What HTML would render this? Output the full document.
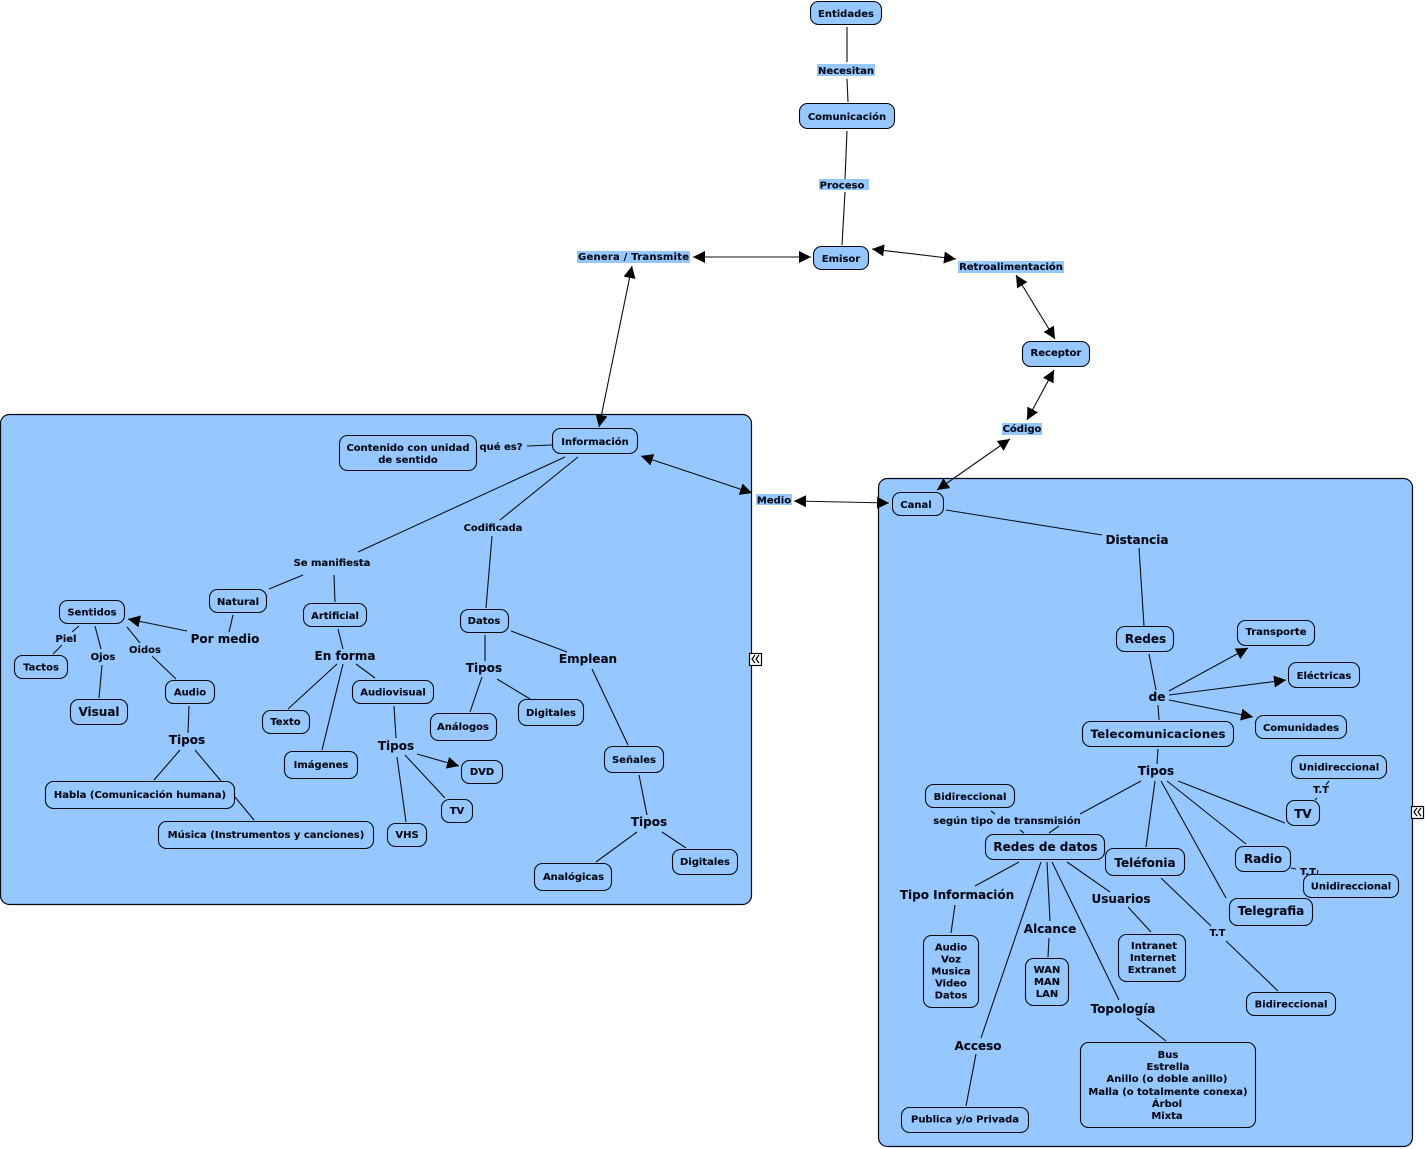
<!DOCTYPE html>
<html><head><meta charset="utf-8"><style>
html,body{margin:0;padding:0;background:#fff}
svg{display:block}
text{font-family:"DejaVu Sans","Liberation Sans",sans-serif;font-weight:bold;fill:#050a18;stroke:#050a18;stroke-width:.12;text-anchor:middle;font-size:10px}
.l{font-size:12px}
.m{font-size:11.7px}
.n rect{fill:#96c8ff;stroke:#000814;stroke-width:1.1}
.n rect.g{stroke:#000814;stroke-width:1.2}
.b{fill:#96c8ff;stroke:none}
line{stroke:#0a0f1a;stroke-width:1.1}
</style></head><body>
<svg width="1425" height="1149" viewBox="0 0 1425 1149" xmlns="http://www.w3.org/2000/svg">
<defs><marker id="a" markerUnits="userSpaceOnUse" markerWidth="13" markerHeight="12" refX="12" refY="6" orient="auto-start-reverse"><path d="M0 0L12 6L0 12Z" fill="#000"/></marker></defs>
<g class="n">
<rect class="g" x="0.5" y="414.5" width="751" height="490" rx="9"/>
<rect class="g" x="878.5" y="478.5" width="534" height="668" rx="9"/>
</g>
<rect class="b" x="817" y="64" width="58" height="12"/>
<rect class="b" x="819" y="179" width="50" height="11"/>
<rect class="b" x="577" y="251" width="113" height="12"/>
<rect class="b" x="958" y="261" width="106" height="12"/>
<rect class="b" x="1002" y="423" width="40" height="12"/>
<rect class="b" x="756" y="494" width="36" height="11"/>
<g>
<line x1="847" y1="27" x2="847" y2="62"/><line x1="847" y1="79" x2="848" y2="102"/>
<line x1="847" y1="131" x2="845" y2="179"/><line x1="845" y1="192" x2="842" y2="245"/>
<line x1="693" y1="257" x2="811" y2="257" marker-start="url(#a)" marker-end="url(#a)"/>
<line x1="872" y1="249" x2="956" y2="259" marker-start="url(#a)" marker-end="url(#a)"/>
<line x1="1016" y1="275" x2="1055" y2="339" marker-start="url(#a)" marker-end="url(#a)"/>
<line x1="1054" y1="370" x2="1027" y2="420" marker-start="url(#a)" marker-end="url(#a)"/>
<line x1="1010" y1="439" x2="937" y2="490" marker-start="url(#a)" marker-end="url(#a)"/>
<line x1="632" y1="266" x2="599" y2="427" marker-start="url(#a)" marker-end="url(#a)"/>
<line x1="641" y1="456" x2="752" y2="493" marker-start="url(#a)" marker-end="url(#a)"/>
<line x1="794" y1="501" x2="889" y2="503" marker-start="url(#a)" marker-end="url(#a)"/>
<line x1="552" y1="445" x2="527" y2="446"/>
<line x1="565" y1="457" x2="358" y2="552"/>
<line x1="578" y1="457" x2="500" y2="520"/><line x1="492" y1="536" x2="486" y2="608"/>
<line x1="303" y1="575" x2="269" y2="589"/><line x1="334" y1="575" x2="335" y2="602"/>
<line x1="233" y1="615" x2="229" y2="632"/>
<line x1="187" y1="631" x2="128" y2="619" marker-end="url(#a)"/>
<line x1="79" y1="626" x2="72" y2="632"/><line x1="62" y1="645" x2="53" y2="654"/>
<line x1="95" y1="626" x2="101" y2="649"/><line x1="102" y1="665" x2="99" y2="698"/>
<line x1="127" y1="627" x2="140" y2="643"/><line x1="152" y1="656" x2="176" y2="679"/>
<line x1="189" y1="706" x2="188" y2="733"/>
<line x1="180" y1="750" x2="154" y2="780"/><line x1="195" y1="750" x2="221" y2="781"/><line x1="235" y1="797" x2="254" y2="820"/>
<line x1="338" y1="629" x2="343" y2="649"/>
<line x1="337" y1="664" x2="288" y2="709"/><line x1="343" y1="664" x2="322" y2="750"/><line x1="356" y1="664" x2="375" y2="678"/>
<line x1="394" y1="706" x2="396" y2="738"/>
<line x1="397" y1="757" x2="406" y2="822"/><line x1="405" y1="755" x2="445" y2="798"/>
<line x1="417" y1="754" x2="459" y2="766" marker-end="url(#a)"/>
<line x1="485" y1="635" x2="485" y2="661"/><line x1="482" y1="677" x2="470" y2="712"/><line x1="497" y1="679" x2="530" y2="699"/>
<line x1="511" y1="631" x2="567" y2="652"/><line x1="592" y1="669" x2="628" y2="745"/><line x1="639" y1="775" x2="647" y2="815"/>
<line x1="637" y1="832" x2="596" y2="862"/><line x1="662" y1="832" x2="686" y2="848"/>
<line x1="946" y1="510" x2="1102" y2="535"/><line x1="1139" y1="548" x2="1144" y2="626"/>
<line x1="1149" y1="654" x2="1156" y2="690"/>
<line x1="1169" y1="691" x2="1248" y2="648" marker-end="url(#a)"/>
<line x1="1169" y1="695" x2="1286" y2="680" marker-end="url(#a)"/>
<line x1="1169" y1="700" x2="1253" y2="717" marker-end="url(#a)"/>
<line x1="1158" y1="705" x2="1159" y2="720"/><line x1="1158" y1="749" x2="1157" y2="764"/>
<line x1="1141" y1="781" x2="1080" y2="814"/><line x1="1059" y1="826" x2="1049" y2="833"/>
<line x1="1155" y1="781" x2="1146" y2="847"/><line x1="1161" y1="781" x2="1226" y2="898"/>
<line x1="1167" y1="781" x2="1246" y2="844"/><line x1="1178" y1="781" x2="1285" y2="823"/>
<line x1="1317" y1="798" x2="1315" y2="800"/><line x1="1329" y1="781" x2="1326" y2="785"/>
<line x1="1291" y1="868" x2="1296" y2="869"/><line x1="1318" y1="870" x2="1317" y2="875"/>
<line x1="991" y1="811" x2="995" y2="814"/><line x1="1020" y1="830" x2="1024" y2="833"/>
<line x1="1019" y1="862" x2="975" y2="886"/><line x1="955" y1="905" x2="951" y2="933"/>
<line x1="1041" y1="862" x2="981" y2="1038"/><line x1="976" y1="1054" x2="966" y2="1106"/>
<line x1="1047" y1="862" x2="1050" y2="921"/><line x1="1049" y1="938" x2="1048" y2="957"/>
<line x1="1052" y1="862" x2="1119" y2="1000"/><line x1="1137" y1="1018" x2="1166" y2="1041"/>
<line x1="1067" y1="862" x2="1110" y2="892"/><line x1="1128" y1="907" x2="1151" y2="932"/>
<line x1="1161" y1="878" x2="1211" y2="926"/><line x1="1226" y1="941" x2="1278" y2="991"/>
</g>
<g class="n">
<rect x="810.5" y="1.5" width="71" height="23" rx="8"/><rect x="799.5" y="103.5" width="95" height="25" rx="8"/>
<rect x="813.5" y="246.5" width="55" height="23" rx="8"/><rect x="1022.5" y="341.5" width="67" height="25" rx="8"/>
<rect x="552.5" y="428.5" width="85" height="25" rx="8"/><rect x="339.5" y="435.5" width="137" height="35" rx="8"/>
<rect x="892.5" y="492.5" width="51" height="23" rx="8"/><rect x="209.5" y="589.5" width="57" height="23" rx="8"/>
<rect x="303.5" y="603.5" width="63" height="23" rx="8"/><rect x="59.5" y="600.5" width="65" height="23" rx="8"/>
<rect x="14.5" y="655.5" width="53" height="23" rx="8"/><rect x="70.5" y="699.5" width="57" height="25" rx="8"/>
<rect x="165.5" y="680.5" width="49" height="23" rx="8"/><rect x="262.5" y="710.5" width="47" height="23" rx="8"/>
<rect x="284.5" y="751.5" width="73" height="27" rx="8"/><rect x="352.5" y="680.5" width="81" height="23" rx="8"/>
<rect x="45.5" y="781.5" width="189" height="27" rx="8"/><rect x="158.5" y="821.5" width="215" height="27" rx="8"/>
<rect x="387.5" y="823.5" width="39" height="23" rx="8"/><rect x="441.5" y="799.5" width="31" height="23" rx="8"/>
<rect x="461.5" y="760.5" width="41" height="23" rx="8"/><rect x="430.5" y="713.5" width="66" height="27" rx="8"/>
<rect x="518.5" y="699.5" width="65" height="26" rx="8"/><rect x="460.5" y="609.5" width="48" height="23" rx="8"/>
<rect x="604.5" y="746.5" width="59" height="26" rx="8"/><rect x="534.5" y="863.5" width="77" height="27" rx="8"/>
<rect x="672.5" y="849.5" width="65" height="25" rx="8"/>
<rect x="1116.5" y="626.5" width="57" height="25" rx="8"/><rect x="1237.5" y="620.5" width="77" height="25" rx="8"/>
<rect x="1288.5" y="662.5" width="71" height="25" rx="8"/><rect x="1255.5" y="715.5" width="91" height="23" rx="8"/>
<rect x="1082.5" y="721.5" width="151" height="25" rx="8"/><rect x="1291.5" y="755.5" width="95" height="23" rx="8"/>
<rect x="925.5" y="784.5" width="89" height="23" rx="8"/><rect x="1286.5" y="800.5" width="33" height="25" rx="8"/>
<rect x="985.5" y="834.5" width="119" height="25" rx="8"/><rect x="1105.5" y="848.5" width="79" height="27" rx="8"/>
<rect x="1235.5" y="846.5" width="55" height="25" rx="8"/><rect x="1303.5" y="874.5" width="95" height="23" rx="8"/>
<rect x="1229.5" y="898.5" width="83" height="27" rx="8"/><rect x="923.5" y="935.5" width="55" height="72" rx="8"/>
<rect x="1025.5" y="958.5" width="43" height="47" rx="8"/><rect x="1118.5" y="934.5" width="67" height="47" rx="8"/>
<rect x="1246.5" y="992.5" width="89" height="23" rx="8"/><rect x="1080.5" y="1042.5" width="175" height="85" rx="8"/>
<rect x="901.5" y="1107.5" width="127" height="25" rx="8"/>
</g>
<text x="846" y="17">Entidades</text><text x="846" y="74">Necesitan</text>
<text x="847" y="120">Comunicación</text><text x="842" y="188.500">Proceso</text>
<text x="841" y="262">Emisor</text><text x="633.500" y="260" textLength="111">Genera / Transmite</text>
<text x="1011" y="270">Retroalimentación</text><text x="1056" y="356">Receptor</text>
<text x="1022" y="432">Código</text><text x="595" y="445">Información</text>
<text x="408" y="451">Contenido con unidad</text><text x="408" y="463">de sentido</text>
<text x="501" y="450">qué es?</text><text x="493" y="531">Codificada</text>
<text x="332" y="566">Se manifiesta</text><text x="774" y="503.500">Medio</text><text x="916" y="508">Canal</text>
<text x="238" y="605">Natural</text><text x="335" y="619">Artificial</text>
<text x="92" y="615.500">Sentidos</text><text class="l" x="225" y="643">Por medio</text>
<text x="66" y="642">Piel</text><text x="103" y="660">Ojos</text><text x="145" y="653">Oidos</text>
<text x="41" y="670.500">Tactos</text><text class="l" x="99" y="716">Visual</text>
<text x="190" y="695.500">Audio</text><text class="l" x="187" y="744">Tipos</text>
<text x="140" y="798">Habla (Comunicación humana)</text>
<text x="266" y="838">Música (Instrumentos y canciones)</text>
<text class="l" x="345" y="660">En forma</text><text x="285.500" y="725">Texto</text>
<text x="321" y="768">Imágenes</text><text x="393" y="695.500">Audiovisual</text>
<text class="l" x="396" y="750">Tipos</text><text x="482" y="775">DVD</text>
<text x="457" y="814">TV</text><text x="407" y="838">VHS</text>
<text x="484" y="624">Datos</text><text class="l" x="484" y="672">Tipos</text>
<text x="463" y="730">Análogos</text><text x="551" y="716">Digitales</text>
<text class="l" x="588" y="663">Emplean</text><text x="634" y="763">Señales</text>
<text class="l" x="649" y="826">Tipos</text><text x="573.500" y="880">Analógicas</text><text x="705" y="865">Digitales</text>
<text class="l" x="1137" y="544">Distancia</text><text class="l" x="1145.500" y="643">Redes</text>
<text x="1276" y="635">Transporte</text><text x="1324" y="679">Eléctricas</text>
<text class="l" x="1157" y="701">de</text><text x="1301" y="731">Comunidades</text>
<text class="m" x="1158" y="738" textLength="135">Telecomunicaciones</text><text class="l" x="1156" y="775">Tipos</text>
<text x="1339" y="770.500">Unidireccional</text><text x="1321" y="793">T.T</text>
<text class="l" x="1303" y="818">TV</text><text x="970" y="800">Bidireccional</text>
<text x="1007" y="824">según tipo de transmisión</text>
<text class="l" x="1045.500" y="851">Redes de datos</text><text class="l" x="1145" y="867">Teléfonia</text>
<text class="l" x="1263" y="863">Radio</text><text x="1308" y="875">T.T</text>
<text x="1351" y="889.500">Unidireccional</text><text class="l" x="1271" y="915">Telegrafia</text>
<text class="l" x="957" y="899">Tipo Información</text><text class="l" x="1121" y="903">Usuarios</text>
<text class="l" x="1050" y="933">Alcance</text><text x="1217.500" y="936">T.T</text>
<text x="951" y="950.500">Audio</text><text x="951" y="962.500">Voz</text><text x="951" y="974.500">Musica</text><text x="951" y="986.500">Video</text><text x="951" y="998.500">Datos</text>
<text x="1047" y="973">WAN</text><text x="1047" y="985">MAN</text><text x="1047" y="997">LAN</text>
<text x="1154" y="949">Intranet</text><text x="1153" y="961">Internet</text><text x="1152" y="973">Extranet</text>
<text x="1291" y="1007.500">Bidireccional</text><text class="l" x="1123" y="1013">Topología</text>
<text class="l" x="978" y="1050">Acceso</text><text x="965" y="1122.500">Publica y/o Privada</text>
<text x="1168" y="1058">Bus</text><text x="1168" y="1070">Estrella</text><text x="1167" y="1082">Anillo (o doble anillo)</text><text x="1168" y="1095">Malla (o totalmente conexa)</text><text x="1167" y="1107">Árbol</text><text x="1167" y="1119">Mixta</text>
<g fill="#fff" stroke="#000" stroke-width="1.2">
<rect x="749.5" y="653.5" width="12" height="12"/><rect x="1411.5" y="806.5" width="12" height="12"/>
</g>
<g fill="none" stroke="#000" stroke-width="1.2">
<path d="M755 655l-3 4 3 4M759 655l-3 4 3 4"/><path d="M1417 808l-3 4 3 4M1421 808l-3 4 3 4"/>
</g>
</svg>
</body></html>
